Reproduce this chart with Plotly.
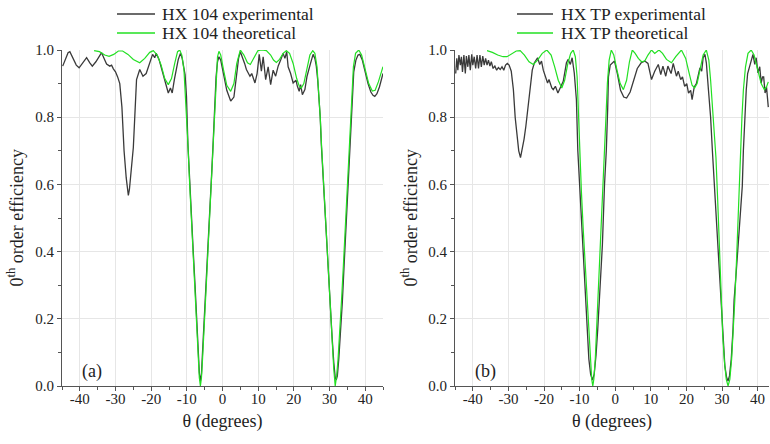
import plotly.graph_objects as go
from plotly.subplots import make_subplots

# ---------------- data ----------------
exp_a_x = [-44.8, -44.0, -43.3, -42.8, -42.0, -41.0, -40.2, -39.3, -38.1, -37.2, -36.5, -35.5, -34.6, -33.9,
           -33.2, -32.5, -31.6, -31.1, -30.6, -30.0, -29.4, -28.8, -28.2, -27.6, -27.0, -26.6, -26.4, -26.1,
           -25.6, -25.0, -24.6, -24.1, -23.2, -22.3, -21.4, -20.4, -19.6, -19.0, -18.6, -17.8, -16.6, -15.7,
           -15.2, -14.6, -14.1, -13.5, -12.4, -11.8, -11.3, -10.5, -10.1, -9.7, -9.2, -8.7, -8.2, -7.7, -7.2,
           -6.8, -6.5, -6.2, -5.9, -5.6, -5.2, -4.5, -4.0, -3.5, -3.0, -2.6, -2.2, -1.8, -1.4, -1.0, -0.5,
           0.3, 1.2, 2.3, 3.2, 4.0, 4.5, 5.0, 5.6, 6.2, 6.7, 7.2, 7.7, 8.2, 8.6, 9.1, 9.7, 10.3, 10.9, 11.4,
           12.1, 12.8, 13.5, 14.2, 14.9, 15.6, 16.3, 17.0, 17.5, 18.0, 18.4, 19.1, 19.8, 20.6, 21.0, 21.5,
           21.9, 22.4, 23.1, 23.7, 24.6, 25.4, 25.9, 26.3, 26.7, 27.0, 27.4, 27.7, 28.2, 28.7, 29.2, 29.7,
           30.2, 30.7, 31.2, 31.6, 31.9, 32.2, 32.6, 33.1, 33.6, 34.1, 34.6, 35.1, 35.6, 36.0, 36.4, 36.8,
           37.4, 38.0, 38.5, 39.2, 40.0, 40.8, 41.6, 42.2, 42.7, 43.3, 44.0, 44.5, 45.0]
exp_a_y = [0.952, 0.975, 0.992, 0.995, 0.975, 0.955, 0.947, 0.960, 0.977, 0.962, 0.952, 0.965, 0.982, 0.992,
           0.975, 0.958, 0.952, 0.955, 0.944, 0.935, 0.920, 0.900, 0.830, 0.700, 0.620, 0.580, 0.567, 0.585,
           0.650, 0.710, 0.800, 0.912, 0.942, 0.922, 0.930, 0.962, 0.987, 0.977, 0.990, 0.972, 0.927, 0.892,
           0.872, 0.887, 0.872, 0.912, 0.972, 0.990, 0.975, 0.927, 0.862, 0.720, 0.600, 0.500, 0.400, 0.300, 0.190,
           0.100, 0.040, 0.015, 0.035, 0.100, 0.190, 0.310, 0.420, 0.530, 0.640, 0.730, 0.830, 0.920, 0.965, 0.980, 0.970,
           0.930, 0.880, 0.848, 0.860, 0.930, 0.975, 0.995, 0.980, 0.960, 0.942, 0.930, 0.922, 0.930, 0.915, 0.902, 0.930, 0.987, 0.937, 0.980,
           0.912, 0.950, 0.897, 0.940, 0.922, 0.952, 0.970, 0.990, 0.975, 0.995, 0.950, 0.930, 0.902, 0.910, 0.892, 0.877,
           0.897, 0.867, 0.882, 0.922, 0.957, 0.987, 0.975, 0.952, 0.910, 0.870, 0.800, 0.720, 0.620, 0.530, 0.440, 0.350,
           0.250, 0.150, 0.070, 0.025, 0.018, 0.030, 0.080, 0.160, 0.250, 0.360, 0.470, 0.580, 0.690, 0.790, 0.880, 0.935,
           0.970, 0.985, 0.987, 0.970, 0.935, 0.900, 0.875, 0.865, 0.862, 0.870, 0.890, 0.910, 0.930]

thy_a_x = [-36.0, -34.5, -33.0, -31.8, -30.5, -29.2, -28.0, -26.5, -25.0, -23.2, -21.8, -20.4, -19.4, -18.3,
           -17.2, -16.2, -15.2, -14.3, -13.4, -12.6, -12.0, -11.4, -10.8, -10.4, -10.0, -9.7, -9.2, -8.7, -8.2,
           -7.7, -7.2, -6.8, -6.5, -6.2, -5.9, -5.6, -5.2, -4.5, -4.0, -3.5, -3.0, -2.6, -2.2, -1.8, -1.4, -1.0,
           -0.5, 0.3, 1.2, 2.3, 3.2, 4.0, 5.0, 6.0, 7.0, 7.8, 8.8, 9.9, 11.0, 12.3, 13.5, 14.3, 15.1, 16.0, 17.0,
           17.9, 18.8, 19.8, 20.8, 21.5, 22.1, 22.8, 23.6, 24.5, 25.3, 25.9, 26.5, 27.0, 27.4, 27.8, 28.3, 28.8,
           29.3, 29.8, 30.3, 30.8, 31.2, 31.6, 32.0, 32.4, 32.9, 33.4, 33.9, 34.4, 34.9, 35.4, 35.8, 36.2, 36.7,
           37.3, 38.2, 39.0, 40.0, 41.0, 42.0, 42.8, 43.7, 44.5, 45.0]
thy_a_y = [0.998, 0.995, 0.985, 0.981, 0.987, 0.997, 0.997, 0.987, 0.972, 0.962, 0.975, 0.993, 0.998, 0.985,
           0.955, 0.915, 0.897, 0.915, 0.960, 0.995, 1.000, 0.985, 0.940, 0.870, 0.790, 0.720, 0.600, 0.490, 0.380,
           0.280, 0.170, 0.080, 0.025, 0.000, 0.025, 0.080, 0.180, 0.310, 0.420, 0.530, 0.640, 0.740, 0.840, 0.930, 0.980, 0.996,
           0.985, 0.940, 0.895, 0.877, 0.900, 0.960, 1.000, 0.985, 0.962, 0.957, 0.975, 0.998, 1.000, 0.998, 0.985, 0.970, 0.963, 0.972, 0.990,
           0.998, 0.990, 0.960, 0.915, 0.893, 0.887, 0.900, 0.940, 0.985, 0.998, 0.990, 0.950, 0.880, 0.800, 0.710, 0.610, 0.510,
           0.420, 0.320, 0.220, 0.120, 0.050, 0.000, 0.030, 0.080, 0.160, 0.260, 0.360, 0.470, 0.580, 0.690, 0.790, 0.880, 0.950,
           0.990, 1.000, 0.985, 0.940, 0.900, 0.878, 0.880, 0.905, 0.935, 0.950]

exp_b_x = [-44.8, -44.5, -44.2, -43.9, -43.5, -43.2, -42.9, -42.5, -42.1, -41.8, -41.4, -41.1, -40.7, -40.3,
           -40.0, -39.6, -39.2, -38.8, -38.4, -38.0, -37.6, -37.2, -36.8, -36.4, -36.0, -35.6, -35.2, -34.8,
           -34.3, -33.8, -33.3, -32.8, -32.3, -31.8, -31.3, -30.8, -30.3, -29.8, -29.2, -28.6, -28.1, -27.6,
           -27.1, -26.6, -26.2, -25.6, -25.1, -24.5, -23.9, -23.3, -22.7, -21.8, -21.2, -20.7, -20.2, -19.7,
           -19.0, -18.6, -17.8, -17.4, -16.8, -16.1, -15.5, -14.6, -14.1, -13.7, -13.2, -12.6, -12.1, -11.5,
           -10.9, -10.5, -10.0, -9.5, -9.0, -8.4, -7.9, -7.4, -6.9, -6.4, -5.9, -5.4, -4.9, -4.4, -3.6, -3.0,
           -2.5, -2.1, -1.9, -1.4, -0.6, -0.2, 0.6, 1.5, 2.4, 3.2, 4.2, 5.2, 6.2, 7.3, 8.3, 9.2, 10.2, 11.1,
           12.1, 12.8, 13.4, 14.2, 14.8, 15.7, 16.3, 17.2, 17.7, 18.4, 18.9, 19.5, 20.1, 20.6, 21.2, 21.6,
           22.2, 22.8, 23.3, 23.8, 24.3, 24.7, 25.2, 25.6, 26.2, 26.8, 27.3, 27.8, 28.3, 28.8, 29.3, 29.8,
           30.3, 30.8, 31.3, 31.7, 32.1, 32.6, 33.1, 33.4, 34.0, 34.6, 35.2, 35.7, 36.0, 36.3, 36.8, 37.2,
           37.7, 38.2, 38.7, 39.2, 39.6, 40.1, 40.6, 41.0, 41.4, 41.7, 42.1, 42.5, 43.0]
exp_b_y = [0.930, 0.975, 0.940, 0.985, 0.955, 0.980, 0.935, 0.985, 0.930, 0.982, 0.950, 0.985, 0.940, 0.987,
           0.955, 0.980, 0.945, 0.985, 0.945, 0.985, 0.950, 0.982, 0.955, 0.975, 0.955, 0.970, 0.952, 0.965,
           0.945, 0.952, 0.940, 0.948, 0.942, 0.950, 0.940, 0.955, 0.960, 0.955, 0.937, 0.882, 0.800, 0.740,
           0.700, 0.680, 0.700, 0.735, 0.773, 0.830, 0.892, 0.940, 0.962, 0.977, 0.957, 0.967, 0.940, 0.922,
           0.902, 0.912, 0.887, 0.882, 0.892, 0.872, 0.887, 0.907, 0.937, 0.962, 0.972, 0.957, 0.977, 0.932,
           0.852, 0.700, 0.600, 0.500, 0.390, 0.256, 0.160, 0.080, 0.035, 0.018, 0.035, 0.090, 0.170, 0.256, 0.420, 0.600,
           0.700, 0.830, 0.920, 0.955, 0.965, 0.967, 0.930, 0.880, 0.860, 0.857, 0.875, 0.910, 0.945, 0.962, 0.967, 0.960, 0.912, 0.937,
           0.957, 0.927, 0.952, 0.922, 0.952, 0.930, 0.960, 0.922, 0.937, 0.912, 0.920, 0.892, 0.900, 0.872, 0.880, 0.852,
           0.890, 0.900, 0.922, 0.947, 0.937, 0.977, 0.987, 0.962, 0.880, 0.800, 0.700, 0.610, 0.520, 0.420, 0.320, 0.220,
           0.130, 0.060, 0.025, 0.015, 0.030, 0.080, 0.170, 0.256, 0.340, 0.430, 0.520, 0.595, 0.700, 0.780, 0.880, 0.930,
           0.950, 0.962, 0.987, 0.957, 0.977, 0.932, 0.950, 0.902, 0.920, 0.920, 0.872, 0.890, 0.830]

thy_b_x = [-36.0, -34.5, -33.0, -31.5, -30.4, -29.0, -27.8, -26.7, -25.5, -24.2, -23.0, -21.8, -20.5, -19.2,
           -18.0, -17.0, -16.0, -15.0, -14.2, -13.3, -12.5, -11.8, -11.2, -10.7, -10.3, -10.0, -9.5, -9.0, -8.5,
           -7.9, -7.4, -7.0, -6.6, -6.3, -6.0, -5.6, -5.2, -4.85, -4.4, -3.9, -3.4, -3.0, -2.6, -2.2, -1.7, -1.1,
           -0.4, 0.5, 1.4, 2.3, 3.2, 4.0, 4.8, 5.6, 6.5, 7.4, 8.3, 9.2, 10.2, 11.1, 12.3, 13.3, 14.4, 15.8, 17.0,
           18.6, 19.8, 20.8, 21.6, 22.3, 23.0, 23.8, 24.7, 25.6, 26.3, 26.8, 27.2, 27.8, 28.3, 28.8, 29.3, 29.7,
           30.2, 30.7, 31.2, 31.7, 32.2, 32.7, 33.2, 33.6, 34.1, 34.5, 34.9, 35.2, 35.6, 36.0, 36.6, 37.3, 38.2,
           39.0, 40.0, 41.0, 41.9, 42.5, 43.0]
thy_b_y = [0.998, 0.993, 0.985, 0.980, 0.980, 0.990, 0.997, 0.998, 0.985, 0.965, 0.957, 0.970, 0.990, 1.000,
           0.985, 0.950, 0.910, 0.887, 0.910, 0.960, 0.990, 1.000, 0.980, 0.920, 0.800, 0.700, 0.580, 0.470, 0.370,
           0.256, 0.150, 0.070, 0.020, 0.000, 0.020, 0.080, 0.170, 0.256, 0.360, 0.480, 0.600, 0.700, 0.800, 0.900, 0.970, 1.000,
           0.985, 0.940, 0.900, 0.882, 0.910, 0.965, 1.000, 0.990, 0.975, 0.965, 0.967, 0.985, 1.000, 0.990, 1.000, 0.990, 0.972, 0.962, 0.980,
           1.000, 0.975, 0.930, 0.895, 0.887, 0.900, 0.940, 0.985, 1.000, 0.970, 0.910, 0.850, 0.770, 0.680, 0.550, 0.400, 0.256,
           0.150, 0.070, 0.020, 0.000, 0.020, 0.080, 0.170, 0.256, 0.380, 0.500, 0.620, 0.700, 0.800, 0.880, 0.950, 0.990, 1.000,
           0.985, 0.945, 0.900, 0.882, 0.890, 0.905]

series_names = ["HX 104 experimental", "HX 104 theoretical", "HX TP experimental", "HX TP theoretical"]
x_tickvals = [-40, -30, -20, -10, 0, 10, 20, 30, 40]
x_ticktext = ["-40", "-30", "-20", "-10", "0", "10", "20", "30", "40"]

# ---------------- figure ----------------
FONT = "Liberation Serif"
TXT = "#222222"
BLACK = "#3a3a3a"
GREEN = "#22e022"

W, H = 770, 444
ml, mr, mt, mb = 62, 1, 50, 58
pw = W - ml - mr
ph = H - mt - mb
dom1 = [0, (383 - ml) / pw]
dom2 = [(455 - ml) / pw, 1.0]


def px_x(p):
    return (p - ml) / pw


def px_y(p):
    return (H - mb - p) / ph


fig = make_subplots(rows=1, cols=2)

series = [(exp_a_x, exp_a_y, BLACK, 1.3, 1), (thy_a_x, thy_a_y, GREEN, 1.2, 1),
          (exp_b_x, exp_b_y, BLACK, 1.3, 2), (thy_b_x, thy_b_y, GREEN, 1.2, 2)]
for (xs, ys, col, wd, c), nm in zip(series, series_names):
    fig.add_trace(go.Scatter(x=xs, y=ys, mode="lines", name=nm, showlegend=False,
                             line=dict(color=col, width=wd)), row=1, col=c)

axis_common = dict(
    showline=True, linecolor="#555555", linewidth=1,
    ticks="outside", ticklen=4, tickcolor="#555555",
    showgrid=True, gridcolor="#e6e6e6", gridwidth=1,
    zeroline=False, mirror=False,
    tickfont=dict(family=FONT, size=15, color=TXT),
)

for i, (dom, xr) in enumerate([(dom1, [-45, 45]), (dom2, [-45, 43.2])], start=1):
    sfx = "" if i == 1 else str(i)
    fig.layout["xaxis" + sfx].update(
        domain=dom, range=xr, tickmode="array", tickvals=x_tickvals, ticktext=x_ticktext,
        minor=dict(dtick=5, tick0=0, ticklen=3, ticks="outside", tickcolor="#555555", showgrid=False),
        ticklabelstandoff=-5,
        title=dict(text="θ (degrees)", font=dict(family=FONT, size=18, color=TXT), standoff=8),
        **axis_common)
    fig.layout["yaxis" + sfx].update(
        range=[0, 1.0], dtick=0.2, tick0=0, tickformat=".1f",
        minor=dict(dtick=0.1, tick0=0, ticklen=3, ticks="outside", tickcolor="#555555", showgrid=False),
        **axis_common)

fig.update_layout(
    width=W, height=H,
    margin=dict(l=ml, r=mr, t=mt, b=mb, autoexpand=False),
    paper_bgcolor="white", plot_bgcolor="white",
    font=dict(family=FONT, size=15, color=TXT),
    showlegend=False,
    hovermode=False,
)

# legend drawn as line samples + labels above each panel
legend_rows = [(117, 155, 160, 14, 0), (117, 155, 160, 33, 1), (517, 553, 559, 14, 2), (517, 553, 559, 33, 3)]
for x0, x1, xt, yc, k in legend_rows:
    col = BLACK if k % 2 == 0 else GREEN
    fig.add_shape(type="line", xref="paper", yref="paper", x0=px_x(x0), x1=px_x(x1), y0=px_y(yc), y1=px_y(yc),
                  line=dict(color=col, width=1.3))
    fig.add_annotation(text=series_names[k], x=px_x(xt), y=px_y(yc), xref="paper", yref="paper",
                       xanchor="left", yanchor="middle", showarrow=False,
                       font=dict(family=FONT, size=17.5, color=TXT))

for xc in (2, 396):
    fig.add_annotation(text="0<sup>th</sup> order efficiency", x=px_x(xc), y=0.5, xref="paper", yref="paper",
                       xanchor="left", yanchor="middle", showarrow=False, textangle=-90,
                       font=dict(family=FONT, size=18, color=TXT))
for lab, xc in (("(a)", 92), ("(b)", 485)):
    fig.add_annotation(text=lab, x=px_x(xc), y=px_y(371), xref="paper", yref="paper",
                       xanchor="center", yanchor="middle", showarrow=False,
                       font=dict(family=FONT, size=18, color=TXT))

# remove the default 8px page margin so the 770x444 figure fills the window exactly
fig.write_html("out.html",
               config={"displayModeBar": False, "staticPlot": True},
               post_script="document.body.style.margin='0px';document.body.style.padding='0px';")
